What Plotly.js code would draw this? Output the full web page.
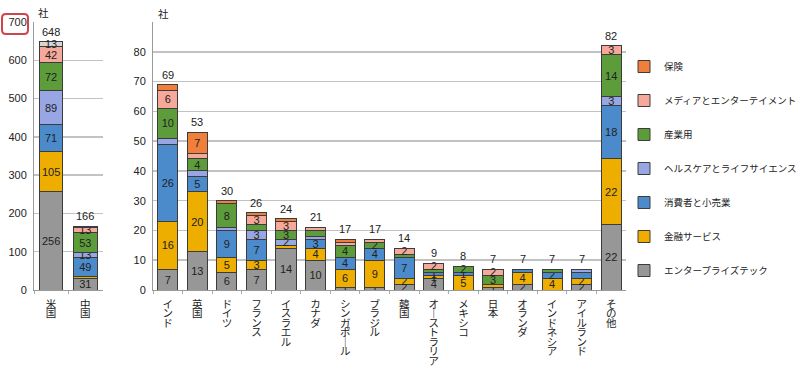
<!DOCTYPE html>
<html>
<head>
<meta charset="utf-8">
<script src="https://cdn.plot.ly/plotly-3.0.1.min.js"></script>
<style>html,body{margin:0;padding:0;background:#fff;}#chart{width:800px;height:371px;}</style>
</head>
<body>
<div id="chart"></div>
<script>
// ---- data ----
const seriesNames = ['エンタープライズテック','金融サービス','消費者と小売業','ヘルスケアとライフサイエンス','産業用','メディアとエンターテイメント','保険'];
const leftCats = ['米国','中国'];
const rightCats = ['インド','英国','ドイツ','フランス','イスラエル','カナダ','シンガポール','ブラジル','韓国','オーストラリア','メキシコ','日本','オランダ','インドネシア','アイルランド','その他'];

const enterpriseL = [256, 31];
const financeL    = [105, 4];
const consumerL   = [71, 49];
const healthL     = [89, 13];
const industrialL = [72, 53];
const mediaL      = [42, 13];
const insuranceL  = [13, 3];

const enterpriseR = [7, 13, 6, 7, 14, 10, 1, 1, 2, 4, 0, 1, 2, 0, 2, 22];
const financeR    = [16, 20, 5, 3, 1, 4, 6, 9, 2, 1, 5, 1, 4, 4, 2, 22];
const consumerR   = [26, 5, 9, 7, 0, 3, 4, 4, 7, 1, 1, 0, 1, 2, 2, 18];
const healthR     = [2, 2, 1, 3, 2, 1, 0, 0, 0, 0, 0, 0, 0, 0, 1, 3];
const industrialR = [10, 4, 8, 2, 3, 2, 4, 2, 1, 1, 2, 3, 0, 1, 0, 14];
const mediaR      = [6, 2, 0, 3, 3, 1, 1, 1, 2, 2, 0, 2, 0, 0, 0, 3];
const insuranceR  = [2, 7, 1, 1, 1, 0, 1, 0, 0, 0, 0, 0, 0, 0, 0, 0];

const leftTotals  = [648, 166];
const rightTotals = [69, 53, 30, 26, 24, 21, 17, 17, 14, 9, 8, 7, 7, 7, 7, 82];

// small segments whose value label is shown in the original: [category, series index]
const smallLabelsShown = [
  ['イスラエル',3],['シンガポール',0],['ブラジル',0],['ブラジル',4],
  ['韓国',0],['韓国',1],['韓国',5],['オーストラリア',1],['オーストラリア',2],['オーストラリア',5],
  ['メキシコ',2],['メキシコ',4],['日本',0],['日本',5],['オランダ',0],['インドネシア',2],
  ['アイルランド',0],['アイルランド',1]
];

// ---- styling ----
const colors = ['#979797','#eeae00','#4b8bcb','#98a7e4','#5c9c3b','#f6a99a','#f07f3c'];
const FONT = 'Liberation Sans, Arial, Noto Sans CJK JP, sans-serif';
const JFONT = 'Noto Sans CJK JP, sans-serif';
const W = 800, H = 371;
const px = x => x / W;
const py = y => 1 - y / H;

const leftData = [enterpriseL, financeL, consumerL, healthL, industrialL, mediaL, insuranceL];
const rightData = [enterpriseR, financeR, consumerR, healthR, industrialR, mediaR, insuranceR];

function labelsFor(cats, vals, si, minVal) {
  return vals.map((v, i) => {
    if (v <= 0) return '';
    if (v >= minVal) return String(v);
    const shown = smallLabelsShown.some(p => p[0] === cats[i] && p[1] === si);
    return shown ? String(v) : '';
  });
}

function vertical(s) {
  return s.split('').map(c => c === 'ー' ? '｜' : c)
    .map(c => '<span style="font-size:10.5px">' + c + '</span>').join('<br>');
}

const traces = [];
seriesNames.forEach((name, si) => {
  const lcolor = leftCats.map((c, i) => (si === 6 && i === 0) ? '#d6d6d6' : colors[si]);
  traces.push({
    type: 'bar', x: leftCats, y: leftData[si], xaxis: 'x', yaxis: 'y',
    name: name, showlegend: false, legendgroup: 'g' + si, legendrank: 100 - si,
    marker: {color: lcolor, line: {color: '#3c3c3c', width: 1}},
    text: labelsFor(leftCats, leftData[si], si, 10),
    textposition: 'inside', insidetextanchor: 'middle', textangle: 0,
    textfont: {size: 11, color: '#222', family: FONT},
    hoverinfo: 'x+y+name'
  });
  traces.push({
    type: 'bar', x: rightCats, y: rightData[si], xaxis: 'x2', yaxis: 'y2',
    name: name, showlegend: true, legendgroup: 'g' + si, legendrank: 100 - si,
    marker: {color: colors[si], line: {color: '#3c3c3c', width: 1}},
    text: labelsFor(rightCats, rightData[si], si, 3),
    textposition: 'inside', insidetextanchor: 'middle', textangle: 0,
    textfont: {size: 11, color: '#222', family: FONT},
    hoverinfo: 'x+y+name'
  });
});

const annotations = [];
leftCats.forEach((c, i) => annotations.push({
  x: c, y: leftTotals[i], xref: 'x', yref: 'y', text: String(leftTotals[i]),
  showarrow: false, yanchor: 'bottom', yshift: 2, font: {size: 11, color: '#222', family: FONT}
}));
rightCats.forEach((c, i) => annotations.push({
  x: c, y: rightTotals[i], xref: 'x2', yref: 'y2', text: String(rightTotals[i]),
  showarrow: false, yanchor: 'bottom', yshift: 2, font: {size: 11, color: '#222', family: FONT}
}));
annotations.push({x: px(36), y: py(3), xref: 'paper', yref: 'paper', text: '社', showarrow: false,
  yanchor: 'top', font: {size: 10.5, color: '#222', family: JFONT}});
annotations.push({x: px(156), y: py(4), xref: 'paper', yref: 'paper', text: '社', showarrow: false,
  yanchor: 'top', font: {size: 10.5, color: '#222', family: JFONT}});

// rounded red highlight box around the 700 label
function roundRect(x0, y0, x1, y1, r) {
  const X = v => px(v).toFixed(5), Y = v => py(v).toFixed(5);
  return 'M' + X(x0 + r) + ',' + Y(y0) + ' L' + X(x1 - r) + ',' + Y(y0) +
    ' Q' + X(x1) + ',' + Y(y0) + ' ' + X(x1) + ',' + Y(y0 + r) +
    ' L' + X(x1) + ',' + Y(y1 - r) + ' Q' + X(x1) + ',' + Y(y1) + ' ' + X(x1 - r) + ',' + Y(y1) +
    ' L' + X(x0 + r) + ',' + Y(y1) + ' Q' + X(x0) + ',' + Y(y1) + ' ' + X(x0) + ',' + Y(y1 - r) +
    ' L' + X(x0) + ',' + Y(y0 + r) + ' Q' + X(x0) + ',' + Y(y0) + ' ' + X(x0 + r) + ',' + Y(y0) + ' Z';
}

const xCommon = {
  type: 'category', showline: true, linecolor: '#9a9a9a', linewidth: 1,
  ticks: 'outside', tickson: 'boundaries', ticklen: 3, tickcolor: '#aaaaaa',
  showgrid: false, zeroline: false, fixedrange: true, tickangle: 0, automargin: false,
  ticklabelstandoff: 8,
  tickfont: {size: 7.3, color: '#222', family: JFONT}
};
const yCommon = {
  showline: true, linecolor: '#9a9a9a', linewidth: 1, ticks: '', automargin: false,
  showgrid: true, gridcolor: '#c2c2c2', gridwidth: 1.5, zeroline: false, fixedrange: true,
  tickfont: {size: 11, color: '#222', family: FONT}, ticklabelstandoff: 4,
  domain: [py(290), py(22)]
};

const layout = {
  width: W, height: H,
  margin: {l: 0, r: 0, t: 0, b: 0, pad: 0, autoexpand: false},
  paper_bgcolor: '#ffffff', plot_bgcolor: '#ffffff',
  barmode: 'stack', bargap: 0.32,
  uniformtext: {mode: 'show', minsize: 11},
  font: {family: FONT, color: '#222'},
  xaxis: Object.assign({}, xCommon, {domain: [px(34), px(102.5)], anchor: 'y',
    tickvals: leftCats, ticktext: leftCats.map(vertical)}),
  yaxis: Object.assign({}, yCommon, {anchor: 'x', range: [0, 700], dtick: 100}),
  xaxis2: Object.assign({}, xCommon, {domain: [px(153), px(626)], anchor: 'y2',
    tickvals: rightCats, ticktext: rightCats.map(vertical)}),
  yaxis2: Object.assign({}, yCommon, {anchor: 'x2', range: [0, 90],
    tickvals: [0, 10, 20, 30, 40, 50, 60, 70, 80]}),
  legend: {
    x: px(624), y: py(52), xanchor: 'left', yanchor: 'top',
    traceorder: 'grouped', tracegroupgap: 15,
    font: {size: 9.5, color: '#222', family: JFONT},
    bgcolor: 'rgba(0,0,0,0)', itemwidth: 30
  },
  annotations: annotations,
  shapes: [{type: 'path', xref: 'paper', yref: 'paper',
    path: roundRect(2, 14, 28, 34, 4), line: {color: '#d0454c', width: 2}}],
  showlegend: true
};

Plotly.newPlot('chart', traces, layout, {displayModeBar: false, staticPlot: true});
</script>
</body>
</html>
